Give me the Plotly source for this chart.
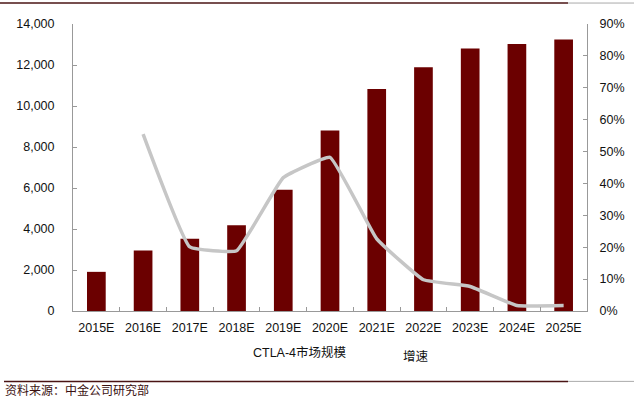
import plotly.graph_objects as go

categories = ["2015E", "2016E", "2017E", "2018E", "2019E", "2020E",
              "2021E", "2022E", "2023E", "2024E", "2025E"]
market_size = [1910, 2950, 3530, 4180, 5920, 8800, 10830, 11890, 12810, 13030, 13250]
growth_cats = categories[1:]
growth = [0.555, 0.201, 0.189, 0.418, 0.482, 0.226, 0.098, 0.077, 0.017, 0.017]

left_ticks = [0, 2000, 4000, 6000, 8000, 10000, 12000, 14000]
left_labels = ["0", "2,000", "4,000", "6,000", "8,000", "10,000", "12,000", "14,000"]
right_ticks = [0, 0.1, 0.2, 0.3, 0.4, 0.5, 0.6, 0.7, 0.8, 0.9]
right_labels = ["0%", "10%", "20%", "30%", "40%", "50%", "60%", "70%", "80%", "90%"]

series_names = ["CTLA-4市场规模", "增速"]
source_text = "资料来源：中金公司研究部"

FONT = "Liberation Sans, Arial, Noto Sans CJK SC, sans-serif"
CJK = "Noto Sans CJK SC, Liberation Sans, sans-serif"

W, H = 640, 398
L, R, T, B = 73, 53, 24, 86.5
PW, PH = W - L - R, H - T - B


def px_x(x):
    return (x - L) / PW


def px_y(y):
    return (H - B - y) / PH


fig = go.Figure()
fig.add_trace(go.Bar(x=categories, y=market_size, name=series_names[0],
                     marker=dict(color="#6b0000", line=dict(width=0)),
                     showlegend=False))
fig.add_trace(go.Scatter(x=growth_cats, y=growth, name=series_names[1], yaxis="y2",
                         mode="lines", line=dict(color="#c6c6c6", width=3.5,
                                                 shape="spline", smoothing=0.3),
                         showlegend=False))

fig.update_layout(
    width=W, height=H,
    margin=dict(l=L, r=R, t=T, b=B),
    paper_bgcolor="white", plot_bgcolor="white",
    font=dict(family=FONT, size=12.5, color="#111111"),
    bargap=0.6,
    xaxis=dict(type="category", showline=True, linecolor="#999999", linewidth=1,
               ticks="inside", ticklen=4, tickcolor="#999999", tickson="boundaries",
               showgrid=False, ticklabelstandoff=5,
               tickfont=dict(family=FONT, size=12.5, color="#111111")),
    yaxis=dict(range=[0, 14000], tickvals=left_ticks, ticktext=left_labels,
               showline=True, linecolor="#999999", linewidth=1,
               ticks="inside", ticklen=4, tickcolor="#999999",
               showgrid=False, zeroline=False, ticklabelstandoff=15,
               tickfont=dict(family=FONT, size=12.5, color="#111111")),
    yaxis2=dict(range=[0, 0.9], tickvals=right_ticks, ticktext=right_labels,
                overlaying="y", side="right",
                showline=True, linecolor="#999999", linewidth=1,
                ticks="inside", ticklen=4, tickcolor="#999999",
                showgrid=False, zeroline=False, ticklabelstandoff=9,
                tickfont=dict(family=FONT, size=12.5, color="#111111")),
    shapes=[
        dict(type="line", xref="paper", yref="paper", x0=px_x(0), x1=px_x(568),
             y0=px_y(3), y1=px_y(3), line=dict(color="#4a1414", width=1.5)),
        dict(type="line", xref="paper", yref="paper", x0=px_x(568), x1=px_x(634),
             y0=px_y(3), y1=px_y(3), line=dict(color="#aaaaaa", width=1)),
        dict(type="line", xref="paper", yref="paper", x0=px_x(4), x1=px_x(568),
             y0=px_y(382), y1=px_y(382), line=dict(color="#4a1414", width=1.5)),
        dict(type="line", xref="paper", yref="paper", x0=px_x(568), x1=px_x(634),
             y0=px_y(382), y1=px_y(382), line=dict(color="#aaaaaa", width=1)),
    ],
    annotations=[
        dict(text=series_names[0], xref="paper", yref="paper",
             x=px_x(300), y=px_y(353), showarrow=False,
             xanchor="center", yanchor="middle",
             font=dict(family=FONT, size=12.5, color="#111111")),
        dict(text=series_names[1], xref="paper", yref="paper",
             x=px_x(416), y=px_y(356), showarrow=False,
             xanchor="center", yanchor="middle",
             font=dict(family=CJK, size=12.5, color="#111111")),
        dict(text=source_text, xref="paper", yref="paper",
             x=px_x(3), y=px_y(390.5), showarrow=False,
             xanchor="left", yanchor="middle",
             font=dict(family=CJK, size=12, color="#3a1010")),
    ],
)

fig.write_html("out.html", config={"displayModeBar": False},
               post_script="document.body.style.margin='0px';document.body.style.overflow='hidden';")
